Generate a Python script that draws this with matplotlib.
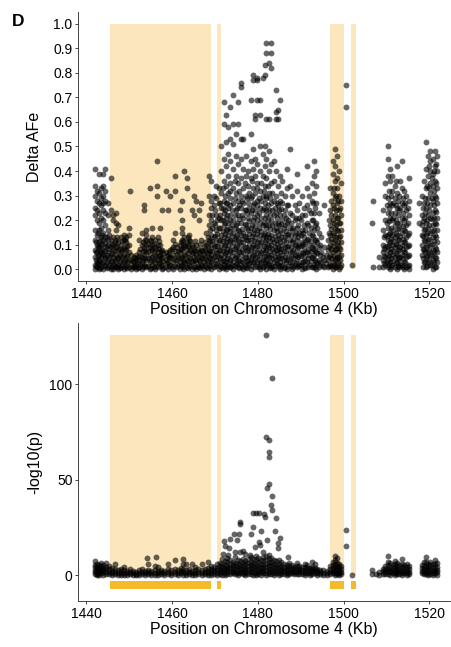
import matplotlib
matplotlib.use("Agg")
import matplotlib.pyplot as plt

plt.rcParams["font.family"] = ["Liberation Sans", "DejaVu Sans"]

# highlighted regions on chromosome 4 (Kb)
REGIONS = [(1445.5, 1469.2), (1470.4, 1471.3), (1496.7, 1500.1), (1501.6, 1502.9)]

X_TICKS = [1440, 1460, 1480, 1500, 1520]
AFE_TICKS = [0.0, 0.1, 0.2, 0.3, 0.4, 0.5, 0.6, 0.7, 0.8, 0.9, 1.0]
P_TICKS = [0, 50, 100]

# Delta AFe per SNP, grouped by position (Kb)
AFE_COLS = [
    (1442.0, [0.41, 0.34, 0.30, 0.25, 0.22, 0.16, 0.12, 0.08, 0.05, 0.02, 0.00]),
    (1442.5, [0.32, 0.28, 0.24, 0.20, 0.14, 0.10, 0.07, 0.03, 0.01]),
    (1443.0, [0.39, 0.31, 0.27, 0.23, 0.19, 0.16, 0.11, 0.09, 0.06, 0.04, 0.02, 0.00]),
    (1443.5, [0.33, 0.29, 0.26, 0.21, 0.17, 0.13, 0.10, 0.07, 0.05, 0.01]),
    (1444.0, [0.39, 0.34, 0.30, 0.27, 0.24, 0.20, 0.15, 0.12, 0.08, 0.06, 0.03, 0.00]),
    (1444.5, [0.41, 0.32, 0.28, 0.23, 0.18, 0.13, 0.09, 0.05, 0.02]),
    (1445.0, [0.27, 0.22, 0.16, 0.12, 0.10, 0.07, 0.04, 0.01]),
    (1445.7, [0.37, 0.24, 0.12, 0.09, 0.06, 0.03, 0.00]),
    (1446.3, [0.22, 0.20, 0.13, 0.10, 0.08, 0.05, 0.02, 0.00]),
    (1446.9, [0.23, 0.19, 0.16, 0.12, 0.09, 0.06, 0.03, 0.01]),
    (1447.5, [0.18, 0.11, 0.08, 0.05, 0.02, 0.00]),
    (1448.1, [0.13, 0.10, 0.07, 0.04, 0.01]),
    (1448.7, [0.14, 0.12, 0.09, 0.06, 0.03, 0.00]),
    (1449.3, [0.13, 0.11, 0.08, 0.05, 0.02]),
    (1449.9, [0.17, 0.14, 0.10, 0.07, 0.04, 0.01]),
    (1450.2, [0.32]),
    (1450.5, [0.06, 0.04, 0.02, 0.00]),
    (1451.1, [0.05, 0.03, 0.01]),
    (1451.7, [0.06, 0.04, 0.02, 0.00]),
    (1452.3, [0.12, 0.07, 0.04, 0.01]),
    (1452.9, [0.15, 0.10, 0.05, 0.03, 0.00]),
    (1453.5, [0.26, 0.24, 0.09, 0.06, 0.02]),
    (1454.0, [0.16, 0.14, 0.12, 0.10, 0.07, 0.04, 0.01]),
    (1454.8, [0.33, 0.12, 0.09, 0.06, 0.03, 0.00]),
    (1455.4, [0.17, 0.13, 0.10, 0.08, 0.05, 0.02]),
    (1456.0, [0.12, 0.09, 0.06, 0.03, 0.00]),
    (1456.4, [0.44, 0.34, 0.30]),
    (1456.7, [0.13, 0.10, 0.07, 0.04, 0.01]),
    (1457.1, [0.17, 0.10, 0.06, 0.03]),
    (1457.7, [0.24, 0.08, 0.05, 0.02, 0.00]),
    (1458.5, [0.32, 0.07, 0.04, 0.01]),
    (1459.1, [0.24, 0.06, 0.03, 0.00]),
    (1459.6, [0.30, 0.08, 0.05, 0.02]),
    (1460.3, [0.12, 0.09, 0.06, 0.03, 0.00]),
    (1460.7, [0.38, 0.32, 0.15]),
    (1461.2, [0.09, 0.06, 0.04, 0.01]),
    (1461.8, [0.24, 0.10, 0.07, 0.03, 0.00]),
    (1462.3, [0.28, 0.20, 0.17, 0.15, 0.12, 0.08, 0.05, 0.02]),
    (1462.8, [0.40, 0.13, 0.10, 0.06, 0.03, 0.00]),
    (1463.4, [0.37, 0.33, 0.11, 0.08, 0.04, 0.01]),
    (1464.0, [0.14, 0.12, 0.09, 0.05, 0.02]),
    (1464.6, [0.24, 0.10, 0.07, 0.03, 0.00]),
    (1465.1, [0.30, 0.22, 0.08, 0.05, 0.01]),
    (1465.7, [0.28, 0.10, 0.06, 0.03, 0.00]),
    (1466.2, [0.24, 0.20, 0.07, 0.04, 0.01]),
    (1466.8, [0.27, 0.12, 0.08, 0.05, 0.02]),
    (1467.4, [0.09, 0.06, 0.03, 0.00]),
    (1468.0, [0.15, 0.10, 0.07, 0.04, 0.01]),
    (1468.6, [0.38, 0.30, 0.22, 0.18, 0.12, 0.08, 0.05, 0.02]),
    (1469.1, [0.36, 0.28, 0.25, 0.20, 0.14, 0.10, 0.06, 0.03, 0.00]),
    (1469.7, [0.30, 0.26, 0.19, 0.13, 0.09, 0.05, 0.01]),
    (1470.3, [0.34, 0.29, 0.22, 0.16, 0.11, 0.07, 0.04, 0.02]),
    (1470.9, [0.33, 0.27, 0.21, 0.17, 0.12, 0.08, 0.05, 0.00]),
    (1471.5, [0.50, 0.40, 0.31, 0.25, 0.20, 0.14, 0.10, 0.06, 0.03, 0.01]),
    (1472.1, [0.68, 0.59, 0.45, 0.36, 0.28, 0.23, 0.18, 0.13, 0.09, 0.05, 0.02]),
    (1472.6, [0.63, 0.52, 0.42, 0.34, 0.27, 0.21, 0.16, 0.11, 0.07, 0.03, 0.00]),
    (1473.1, [0.58, 0.47, 0.38, 0.31, 0.25, 0.19, 0.14, 0.10, 0.06, 0.02]),
    (1473.6, [0.66, 0.53, 0.44, 0.35, 0.29, 0.22, 0.17, 0.12, 0.08, 0.04, 0.01]),
    (1474.3, [0.71, 0.59, 0.51, 0.41, 0.33, 0.27, 0.20, 0.15, 0.11, 0.07, 0.03, 0.00]),
    (1474.9, [0.55, 0.46, 0.38, 0.31, 0.24, 0.18, 0.13, 0.09, 0.05, 0.02]),
    (1475.4, [0.68, 0.59, 0.43, 0.35, 0.28, 0.22, 0.16, 0.12, 0.08, 0.04, 0.01]),
    (1476.0, [0.76, 0.74, 0.53, 0.45, 0.37, 0.30, 0.25, 0.19, 0.14, 0.10, 0.06, 0.02]),
    (1476.6, [0.53, 0.41, 0.33, 0.27, 0.21, 0.15, 0.11, 0.07, 0.03, 0.00]),
    (1477.2, [0.46, 0.38, 0.30, 0.24, 0.18, 0.13, 0.09, 0.05, 0.01]),
    (1477.8, [0.40, 0.34, 0.27, 0.21, 0.16, 0.12, 0.08, 0.04, 0.02]),
    (1478.3, [0.69, 0.55, 0.44, 0.37, 0.29, 0.23, 0.17, 0.12, 0.08, 0.04, 0.00]),
    (1478.8, [0.79, 0.77, 0.49, 0.41, 0.33, 0.26, 0.20, 0.15, 0.10, 0.06, 0.03]),
    (1479.4, [0.63, 0.61, 0.45, 0.38, 0.31, 0.24, 0.18, 0.13, 0.09, 0.05, 0.01]),
    (1479.9, [0.78, 0.69, 0.77, 0.43, 0.35, 0.28, 0.22, 0.16, 0.11, 0.07, 0.03]),
    (1480.5, [0.69, 0.63, 0.50, 0.40, 0.32, 0.25, 0.19, 0.14, 0.10, 0.06, 0.02, 0.00]),
    (1481.1, [0.78, 0.47, 0.38, 0.30, 0.24, 0.18, 0.13, 0.08, 0.04, 0.01]),
    (1481.6, [0.83, 0.79, 0.50, 0.42, 0.34, 0.27, 0.21, 0.15, 0.11, 0.07, 0.03]),
    (1482.0, [0.92, 0.88, 0.61, 0.45, 0.37, 0.29, 0.22, 0.17, 0.12, 0.08, 0.04, 0.00]),
    (1482.6, [0.84, 0.61, 0.48, 0.40, 0.31, 0.24, 0.18, 0.13, 0.09, 0.05, 0.02]),
    (1483.1, [0.92, 0.82, 0.88, 0.43, 0.35, 0.27, 0.20, 0.14, 0.10, 0.06, 0.01]),
    (1483.7, [0.44, 0.36, 0.28, 0.22, 0.16, 0.11, 0.07, 0.03, 0.00]),
    (1484.2, [0.73, 0.64, 0.61, 0.40, 0.30, 0.23, 0.17, 0.12, 0.08, 0.04]),
    (1484.7, [0.65, 0.61, 0.34, 0.26, 0.19, 0.14, 0.09, 0.05, 0.02]),
    (1485.1, [0.69, 0.38, 0.28, 0.22, 0.16, 0.11, 0.07, 0.03, 0.00]),
    (1485.7, [0.36, 0.27, 0.20, 0.15, 0.10, 0.06, 0.02]),
    (1486.3, [0.30, 0.24, 0.18, 0.13, 0.09, 0.05, 0.01]),
    (1486.9, [0.41, 0.33, 0.26, 0.19, 0.14, 0.09, 0.04, 0.00]),
    (1487.4, [0.49, 0.34, 0.23, 0.17, 0.12, 0.07, 0.03]),
    (1488.0, [0.30, 0.22, 0.16, 0.11, 0.07, 0.03, 0.00]),
    (1488.6, [0.26, 0.20, 0.14, 0.10, 0.06, 0.02]),
    (1489.1, [0.39, 0.32, 0.24, 0.17, 0.12, 0.08, 0.04, 0.01]),
    (1489.7, [0.27, 0.21, 0.15, 0.10, 0.06, 0.02]),
    (1490.2, [0.30, 0.22, 0.16, 0.11, 0.07, 0.03, 0.00]),
    (1490.8, [0.25, 0.18, 0.13, 0.09, 0.05, 0.01]),
    (1491.4, [0.42, 0.33, 0.26, 0.19, 0.12, 0.07, 0.03]),
    (1492.0, [0.30, 0.24, 0.15, 0.10, 0.06, 0.02]),
    (1492.6, [0.35, 0.28, 0.20, 0.14, 0.09, 0.05, 0.01]),
    (1493.1, [0.44, 0.38, 0.31, 0.23, 0.16, 0.10, 0.06, 0.02]),
    (1493.6, [0.40, 0.34, 0.27, 0.19, 0.12, 0.07, 0.03, 0.00]),
    (1494.2, [0.23, 0.15, 0.09, 0.04, 0.01]),
    (1494.8, [0.13, 0.07, 0.03]),
    (1495.5, [0.26, 0.09, 0.04, 0.01]),
    (1496.3, [0.12, 0.08, 0.04, 0.01]),
    (1496.9, [0.33, 0.24, 0.18, 0.14, 0.10, 0.06, 0.02]),
    (1497.4, [0.44, 0.39, 0.31, 0.26, 0.20, 0.15, 0.11, 0.07, 0.03, 0.00]),
    (1497.9, [0.49, 0.42, 0.36, 0.29, 0.22, 0.17, 0.12, 0.08, 0.04, 0.01]),
    (1498.4, [0.46, 0.37, 0.33, 0.27, 0.21, 0.16, 0.10, 0.05, 0.02]),
    (1498.9, [0.40, 0.30, 0.24, 0.19, 0.13, 0.09, 0.05, 0.00]),
    (1499.4, [0.35, 0.28, 0.22, 0.16, 0.11, 0.06, 0.02]),
    (1500.5, [0.75, 0.66]),
    (1501.9, [0.02]),
    (1506.6, [0.19]),
    (1506.8, [0.28, 0.01]),
    (1508.3, [0.05, 0.01]),
    (1509.1, [0.24, 0.16, 0.10, 0.07, 0.04, 0.01]),
    (1509.7, [0.35, 0.30, 0.20, 0.14, 0.09, 0.05, 0.02]),
    (1510.3, [0.50, 0.45, 0.38, 0.29, 0.23, 0.17, 0.12, 0.08, 0.04, 0.01]),
    (1510.8, [0.41, 0.36, 0.27, 0.21, 0.15, 0.11, 0.07, 0.03, 0.00]),
    (1511.3, [0.38, 0.32, 0.26, 0.20, 0.14, 0.10, 0.06, 0.02]),
    (1511.9, [0.34, 0.29, 0.23, 0.18, 0.13, 0.09, 0.05, 0.01]),
    (1512.4, [0.42, 0.31, 0.25, 0.19, 0.14, 0.10, 0.06, 0.03, 0.00]),
    (1513.0, [0.30, 0.24, 0.17, 0.12, 0.08, 0.04, 0.01]),
    (1513.5, [0.44, 0.33, 0.27, 0.21, 0.15, 0.10, 0.06, 0.02]),
    (1514.1, [0.32, 0.26, 0.20, 0.16, 0.11, 0.07, 0.03, 0.00]),
    (1514.6, [0.30, 0.24, 0.18, 0.13, 0.09, 0.05, 0.01]),
    (1515.2, [0.37, 0.28, 0.22, 0.15, 0.10, 0.06, 0.02, 0.00]),
    (1517.5, [0.27, 0.19]),
    (1518.2, [0.30, 0.22, 0.18, 0.14, 0.10, 0.06]),
    (1518.7, [0.36, 0.27, 0.21, 0.16, 0.12, 0.08, 0.03]),
    (1519.2, [0.52, 0.41, 0.33, 0.25, 0.19, 0.14, 0.09, 0.05, 0.01]),
    (1519.7, [0.46, 0.38, 0.29, 0.22, 0.17, 0.12, 0.07, 0.03]),
    (1520.2, [0.48, 0.44, 0.40, 0.35, 0.31, 0.26, 0.21, 0.15, 0.10, 0.06, 0.02]),
    (1520.7, [0.45, 0.39, 0.34, 0.28, 0.23, 0.18, 0.13, 0.08, 0.04, 0.00]),
    (1521.3, [0.48, 0.42, 0.36, 0.30, 0.24, 0.19, 0.14, 0.09, 0.05, 0.01]),
    (1521.8, [0.46, 0.40, 0.33, 0.27, 0.21, 0.16, 0.11, 0.07, 0.03]),
]

# more Delta AFe SNPs lying in between the columns above
AFE_FILL = [
    (1442.3, [0.11, 0.07, 0.04, 0.015]),
    (1442.8, [0.15, 0.09, 0.055, 0.025]),
    (1443.3, [0.12, 0.08, 0.035, 0.005]),
    (1443.8, [0.14, 0.105, 0.065, 0.025]),
    (1444.3, [0.11, 0.075, 0.045, 0.015]),
    (1444.8, [0.13, 0.095, 0.06, 0.03, 0.005]),
    (1445.4, [0.14, 0.085, 0.05, 0.02]),
    (1446.0, [0.105, 0.065, 0.035, 0.01]),
    (1446.6, [0.11, 0.075, 0.04, 0.015]),
    (1447.2, [0.13, 0.095, 0.045, 0.01]),
    (1447.8, [0.085, 0.06, 0.03, 0.005]),
    (1448.4, [0.115, 0.08, 0.05, 0.02]),
    (1449.0, [0.12, 0.085, 0.04, 0.01]),
    (1449.6, [0.095, 0.06, 0.03, 0.005]),
    (1450.8, [0.035, 0.01]),
    (1451.4, [0.045, 0.015]),
    (1452.0, [0.05, 0.025, 0.005]),
    (1452.6, [0.085, 0.055, 0.02]),
    (1453.2, [0.11, 0.075, 0.04, 0.01]),
    (1453.8, [0.12, 0.08, 0.045, 0.015]),
    (1454.4, [0.105, 0.075, 0.045, 0.015]),
    (1455.1, [0.115, 0.085, 0.04, 0.005]),
    (1455.7, [0.105, 0.07, 0.04, 0.01]),
    (1456.2, [0.085, 0.05, 0.015]),
    (1456.9, [0.115, 0.085, 0.055, 0.025]),
    (1457.4, [0.075, 0.045, 0.015]),
    (1458.0, [0.065, 0.035, 0.005]),
    (1458.8, [0.055, 0.025]),
    (1459.4, [0.07, 0.045, 0.015]),
    (1460.0, [0.085, 0.045, 0.01]),
    (1460.6, [0.105, 0.075, 0.04, 0.015]),
    (1461.5, [0.075, 0.05, 0.02]),
    (1462.0, [0.11, 0.085, 0.045, 0.015]),
    (1462.6, [0.115, 0.09, 0.04, 0.01]),
    (1463.1, [0.095, 0.06, 0.025]),
    (1463.7, [0.13, 0.10, 0.065, 0.035, 0.005]),
    (1464.3, [0.115, 0.08, 0.045, 0.015]),
    (1464.9, [0.09, 0.065, 0.035]),
    (1465.4, [0.115, 0.075, 0.04, 0.01]),
    (1466.0, [0.085, 0.05, 0.015]),
    (1466.5, [0.105, 0.065, 0.035, 0.005]),
    (1467.1, [0.075, 0.045, 0.015]),
    (1467.7, [0.11, 0.08, 0.05, 0.02]),
    (1468.3, [0.13, 0.095, 0.065, 0.035, 0.005]),
    (1468.9, [0.16, 0.115, 0.075, 0.045, 0.015]),
    (1469.4, [0.22, 0.17, 0.115, 0.075, 0.035]),
    (1470.0, [0.24, 0.18, 0.135, 0.095, 0.055, 0.015]),
    (1470.6, [0.20, 0.145, 0.095, 0.065, 0.025]),
    (1471.2, [0.27, 0.22, 0.17, 0.12, 0.08, 0.045, 0.015]),
    (1471.8, [0.33, 0.25, 0.20, 0.155, 0.115, 0.075, 0.035, 0.005]),
    (1472.4, [0.30, 0.24, 0.19, 0.145, 0.10, 0.065, 0.035, 0.01]),
    (1472.9, [0.27, 0.22, 0.165, 0.125, 0.085, 0.045, 0.015]),
    (1473.4, [0.32, 0.26, 0.20, 0.155, 0.115, 0.075, 0.04, 0.01]),
    (1474.0, [0.24, 0.18, 0.135, 0.095, 0.055, 0.02]),
    (1474.6, [0.36, 0.29, 0.22, 0.17, 0.125, 0.085, 0.045, 0.015]),
    (1475.2, [0.25, 0.19, 0.14, 0.10, 0.06, 0.025]),
    (1475.7, [0.32, 0.26, 0.205, 0.155, 0.11, 0.07, 0.035, 0.005]),
    (1476.3, [0.28, 0.22, 0.165, 0.125, 0.08, 0.04, 0.01]),
    (1476.9, [0.35, 0.24, 0.185, 0.135, 0.09, 0.05, 0.02]),
    (1477.5, [0.29, 0.23, 0.17, 0.12, 0.075, 0.035, 0.005]),
    (1478.0, [0.31, 0.25, 0.195, 0.145, 0.10, 0.06, 0.025]),
    (1478.6, [0.36, 0.30, 0.24, 0.18, 0.135, 0.09, 0.05, 0.015]),
    (1479.1, [0.27, 0.215, 0.16, 0.115, 0.07, 0.03]),
    (1479.7, [0.33, 0.26, 0.20, 0.145, 0.095, 0.05, 0.015]),
    (1480.2, [0.29, 0.23, 0.17, 0.12, 0.08, 0.04, 0.01]),
    (1480.8, [0.35, 0.28, 0.21, 0.155, 0.11, 0.065, 0.03]),
    (1481.4, [0.32, 0.25, 0.19, 0.14, 0.095, 0.05, 0.015]),
    (1481.8, [0.30, 0.24, 0.18, 0.13, 0.09, 0.055, 0.02]),
    (1482.3, [0.34, 0.26, 0.20, 0.145, 0.10, 0.06, 0.025]),
    (1482.9, [0.29, 0.22, 0.165, 0.115, 0.075, 0.035, 0.005]),
    (1483.4, [0.31, 0.24, 0.18, 0.125, 0.085, 0.045, 0.015]),
    (1483.9, [0.25, 0.19, 0.135, 0.09, 0.05, 0.015]),
    (1484.5, [0.27, 0.21, 0.155, 0.105, 0.065, 0.025]),
    (1484.9, [0.24, 0.18, 0.125, 0.085, 0.045, 0.01]),
    (1485.4, [0.31, 0.245, 0.185, 0.13, 0.085, 0.045, 0.015]),
    (1486.0, [0.22, 0.17, 0.12, 0.075, 0.04, 0.005]),
    (1486.6, [0.21, 0.155, 0.11, 0.07, 0.03]),
    (1487.1, [0.26, 0.20, 0.145, 0.095, 0.05, 0.015]),
    (1487.7, [0.19, 0.14, 0.09, 0.05, 0.015]),
    (1488.3, [0.17, 0.12, 0.08, 0.045, 0.01]),
    (1488.9, [0.21, 0.15, 0.10, 0.06, 0.025]),
    (1489.4, [0.18, 0.13, 0.09, 0.05, 0.015]),
    (1490.0, [0.20, 0.14, 0.095, 0.055, 0.02]),
    (1490.5, [0.15, 0.105, 0.065, 0.03]),
    (1491.1, [0.22, 0.16, 0.11, 0.07, 0.035, 0.005]),
    (1491.7, [0.18, 0.125, 0.08, 0.045, 0.01]),
    (1492.3, [0.23, 0.17, 0.115, 0.075, 0.035]),
    (1492.9, [0.27, 0.20, 0.135, 0.085, 0.045, 0.01]),
    (1493.4, [0.25, 0.18, 0.12, 0.08, 0.04, 0.01]),
    (1493.9, [0.17, 0.11, 0.065, 0.025]),
    (1494.5, [0.10, 0.06, 0.02]),
    (1495.1, [0.05, 0.015]),
    (1495.9, [0.06, 0.025]),
    (1496.6, [0.20, 0.15, 0.09, 0.05, 0.015]),
    (1497.1, [0.28, 0.22, 0.165, 0.125, 0.085, 0.045, 0.015]),
    (1497.7, [0.33, 0.25, 0.19, 0.14, 0.095, 0.055, 0.02]),
    (1498.2, [0.30, 0.24, 0.18, 0.13, 0.085, 0.045, 0.01]),
    (1498.7, [0.28, 0.21, 0.155, 0.11, 0.07, 0.03]),
    (1499.2, [0.25, 0.19, 0.135, 0.085, 0.04, 0.01]),
    (1509.4, [0.13, 0.085, 0.055, 0.025]),
    (1510.0, [0.26, 0.19, 0.135, 0.095, 0.06, 0.03]),
    (1510.5, [0.32, 0.25, 0.195, 0.145, 0.10, 0.055, 0.02]),
    (1511.1, [0.30, 0.23, 0.17, 0.125, 0.085, 0.045, 0.01]),
    (1511.6, [0.27, 0.21, 0.16, 0.115, 0.075, 0.035]),
    (1512.1, [0.36, 0.26, 0.20, 0.15, 0.105, 0.065, 0.025]),
    (1512.7, [0.28, 0.22, 0.165, 0.12, 0.08, 0.045, 0.015]),
    (1513.2, [0.36, 0.25, 0.19, 0.135, 0.09, 0.05, 0.02]),
    (1513.8, [0.29, 0.23, 0.175, 0.125, 0.085, 0.045, 0.01]),
    (1514.4, [0.27, 0.21, 0.155, 0.11, 0.07, 0.03]),
    (1514.9, [0.25, 0.19, 0.14, 0.095, 0.055, 0.015]),
    (1518.5, [0.25, 0.195, 0.135, 0.085, 0.045, 0.01]),
    (1519.0, [0.29, 0.23, 0.165, 0.115, 0.07, 0.03]),
    (1519.5, [0.34, 0.27, 0.20, 0.15, 0.10, 0.055, 0.015]),
    (1520.0, [0.42, 0.33, 0.24, 0.18, 0.125, 0.08, 0.04]),
    (1520.5, [0.37, 0.29, 0.205, 0.155, 0.105, 0.06, 0.02]),
    (1521.0, [0.40, 0.32, 0.26, 0.21, 0.16, 0.115, 0.07, 0.03]),
    (1521.6, [0.43, 0.35, 0.29, 0.235, 0.185, 0.13, 0.085, 0.045, 0.01]),
]

# -log10(p) per SNP, grouped by position (Kb)
P_COLS = [
    (1442.0, [7.3, 5.5, 4.2, 3.0, 1.8, 0.6]),
    (1442.5, [6.0, 4.6, 3.3, 2.1, 0.9, 0.1]),
    (1443.0, [5.2, 3.8, 2.6, 1.4, 0.3]),
    (1443.5, [6.4, 4.9, 3.5, 2.2, 1.0]),
    (1444.0, [5.5, 4.0, 2.8, 1.6, 0.4]),
    (1444.7, [6.5, 4.4, 3.1, 1.9, 0.7]),
    (1445.3, [4.8, 3.4, 2.0, 0.8]),
    (1446.0, [3.8, 2.5, 1.2, 0.2]),
    (1446.8, [6.0, 3.2, 2.0, 0.8]),
    (1447.5, [2.7, 1.5, 0.4]),
    (1448.2, [3.5, 2.2, 1.0, 0.1]),
    (1448.9, [4.2, 2.6, 1.3, 0.3]),
    (1449.6, [2.3, 1.1, 0.2]),
    (1450.2, [3.5, 1.6, 0.5]),
    (1451.0, [2.4, 1.2, 0.2]),
    (1451.7, [1.9, 0.8, 0.0]),
    (1452.4, [2.6, 1.4, 0.3]),
    (1453.1, [3.4, 2.0, 0.9]),
    (1453.8, [2.5, 1.3, 0.2]),
    (1454.1, [9.1]),
    (1454.5, [6.0, 3.0, 1.7, 0.6]),
    (1455.2, [2.2, 1.0, 0.1]),
    (1456.0, [5.0, 2.8, 1.5, 0.4]),
    (1456.3, [9.4]),
    (1456.8, [4.2, 2.2, 1.0, 0.2]),
    (1457.5, [3.0, 1.7, 0.5]),
    (1458.2, [2.4, 1.2, 0.1]),
    (1459.1, [6.0, 3.3, 1.8, 0.7]),
    (1459.8, [2.6, 1.3, 0.3]),
    (1460.7, [7.8, 3.5, 2.0, 0.8]),
    (1461.4, [2.8, 1.5, 0.2]),
    (1462.1, [4.0, 2.3, 1.0]),
    (1462.6, [8.5, 6.0, 3.1, 1.6, 0.4]),
    (1463.3, [6.0, 2.6, 1.3, 0.1]),
    (1464.0, [3.6, 2.0, 0.8]),
    (1464.7, [6.0, 2.5, 1.1, 0.2]),
    (1465.4, [4.5, 2.8, 1.5, 0.4]),
    (1466.1, [3.2, 1.8, 0.6]),
    (1466.9, [6.0, 2.7, 1.4, 0.3]),
    (1467.6, [3.4, 2.0, 0.8]),
    (1468.4, [6.8, 3.8, 2.4, 1.1, 0.1]),
    (1469.1, [5.0, 3.6, 2.3, 1.0, 0.2]),
    (1469.8, [4.4, 2.9, 1.6, 0.5]),
    (1470.5, [5.8, 4.1, 2.7, 1.4, 0.3]),
    (1471.1, [6.6, 4.8, 3.4, 2.0, 0.8]),
    (1471.7, [8.5, 6.0, 4.5, 3.0, 1.6, 0.4]),
    (1472.3, [7.5, 5.6, 4.0, 2.6, 1.2, 0.1]),
    (1472.9, [9.0, 6.8, 5.0, 3.5, 2.1, 0.7]),
    (1473.5, [8.0, 6.2, 4.6, 3.1, 1.7, 0.5]),
    (1474.1, [7.2, 5.5, 3.9, 2.4, 1.0]),
    (1474.7, [9.5, 6.7, 5.0, 3.4, 2.0, 0.6]),
    (1475.3, [8.2, 6.1, 4.4, 2.9, 1.5, 0.2]),
    (1475.9, [7.6, 5.6, 4.0, 2.5, 1.1]),
    (1476.5, [13.0, 8.8, 6.4, 4.7, 3.2, 1.8, 0.5]),
    (1477.1, [11.0, 7.5, 5.8, 4.1, 2.6, 1.2, 0.1]),
    (1477.7, [8.4, 6.6, 4.8, 3.3, 1.9, 0.6]),
    (1478.3, [9.8, 7.2, 5.3, 3.7, 2.2, 0.9]),
    (1478.9, [8.6, 6.5, 4.7, 3.1, 1.7, 0.4]),
    (1479.5, [10.2, 7.8, 5.8, 4.2, 2.7, 1.3, 0.2]),
    (1480.1, [9.0, 6.9, 5.1, 3.5, 2.0, 0.7]),
    (1480.7, [8.3, 6.2, 4.5, 3.0, 1.6, 0.3]),
    (1481.3, [9.6, 7.4, 5.5, 3.9, 2.4, 1.0]),
    (1481.9, [10.0, 7.9, 6.0, 4.3, 2.8, 1.4, 0.1]),
    (1482.5, [8.8, 6.7, 4.9, 3.3, 1.9, 0.6]),
    (1483.1, [9.2, 7.0, 5.2, 3.6, 2.2, 0.8]),
    (1483.7, [8.0, 6.0, 4.3, 2.8, 1.4, 0.2]),
    (1484.3, [7.4, 5.5, 3.9, 2.5, 1.1]),
    (1484.9, [8.2, 6.1, 4.4, 2.9, 1.5, 0.3]),
    (1485.5, [6.8, 5.0, 3.5, 2.1, 0.8]),
    (1486.1, [6.0, 4.4, 3.0, 1.7, 0.5]),
    (1486.7, [5.6, 4.0, 2.6, 1.3, 0.1]),
    (1487.3, [6.4, 4.7, 3.2, 1.8, 0.6]),
    (1487.9, [5.2, 3.7, 2.3, 1.0]),
    (1488.5, [4.6, 3.2, 1.9, 0.7]),
    (1489.1, [6.5, 4.8, 3.3, 2.0, 0.8]),
    (1489.7, [5.0, 3.5, 2.2, 0.9]),
    (1490.3, [4.4, 3.0, 1.7, 0.5]),
    (1490.9, [6.2, 4.2, 2.8, 1.5, 0.3]),
    (1491.5, [5.4, 3.8, 2.4, 1.1]),
    (1492.1, [4.0, 2.6, 1.3, 0.2]),
    (1492.7, [6.8, 4.6, 3.1, 1.8, 0.6]),
    (1493.3, [5.8, 4.0, 2.6, 1.2]),
    (1493.9, [3.6, 2.3, 1.0, 0.1]),
    (1494.5, [3.0, 1.8, 0.6]),
    (1495.3, [2.6, 1.4, 0.3]),
    (1496.1, [2.2, 1.0, 0.1]),
    (1496.8, [5.0, 3.4, 2.0, 0.7]),
    (1497.4, [7.0, 5.3, 3.8, 2.4, 1.0]),
    (1497.9, [10.3, 8.0, 6.0, 4.3, 2.8, 1.4, 0.2]),
    (1498.4, [9.0, 6.5, 4.7, 3.1, 1.7, 0.5]),
    (1498.9, [6.0, 4.4, 2.9, 1.5, 0.3]),
    (1499.4, [4.8, 3.3, 1.9, 0.6]),
    (1500.5, [23.9, 15.5]),
    (1501.9, [0.4]),
    (1506.7, [3.0, 0.5]),
    (1507.6, [0.8]),
    (1508.3, [2.0, 0.3]),
    (1509.1, [3.6, 2.2, 0.9]),
    (1509.7, [5.0, 3.4, 2.0, 0.6]),
    (1510.3, [10.3, 7.0, 5.2, 3.6, 2.1, 0.8]),
    (1510.8, [6.4, 4.6, 3.0, 1.6, 0.3]),
    (1511.4, [5.5, 3.9, 2.5, 1.1]),
    (1511.9, [7.6, 5.8, 4.2, 2.7, 1.3, 0.1]),
    (1512.5, [6.6, 4.8, 3.2, 1.8, 0.5]),
    (1513.0, [5.2, 3.6, 2.2, 0.9]),
    (1513.6, [8.6, 6.0, 4.3, 2.8, 1.4, 0.2]),
    (1514.1, [5.6, 4.0, 2.5, 1.1]),
    (1514.7, [6.2, 4.5, 2.9, 1.5, 0.3]),
    (1515.2, [5.0, 3.4, 2.0, 0.6]),
    (1518.2, [5.6, 3.9, 2.5, 1.1]),
    (1518.7, [6.8, 4.8, 3.2, 1.8, 0.5]),
    (1519.2, [9.5, 7.0, 5.0, 3.5, 2.0, 0.7]),
    (1519.7, [6.2, 4.4, 2.9, 1.5, 0.2]),
    (1520.2, [7.0, 5.2, 3.6, 2.1, 0.8]),
    (1520.7, [6.0, 4.2, 2.7, 1.3, 0.1]),
    (1521.3, [8.0, 5.8, 4.0, 2.5, 1.1]),
    (1521.8, [6.6, 4.6, 3.0, 1.6, 0.4]),
]

# strongly associated SNPs around the peak
PEAK_X = [1482.0, 1483.3, 1481.8, 1482.6, 1482.5, 1482.6, 1482.5, 1482.1, 1483.2, 1483.1,
          1483.3, 1484.3, 1478.8, 1479.6, 1480.3, 1481.4, 1481.6, 1475.8, 1475.8, 1478.9,
          1480.7, 1484.0, 1474.5, 1475.6, 1478.5, 1473.5, 1472.1, 1475.2, 1480.2, 1482.1,
          1485.1, 1484.7, 1484.7, 1472.3, 1473.3, 1474.6, 1475.8, 1478.1, 1479.3, 1480.4,
          1481.1, 1482.7, 1487.0, 1473.0, 1471.8]
PEAK_P = [125.8, 103.5, 72.3, 70.9, 64.8, 62.2, 47.7, 45.6, 41.6, 36.6,
          34.0, 30.0, 32.6, 32.6, 32.6, 32.0, 30.4, 28.2, 26.8, 25.3,
          23.0, 23.4, 21.8, 21.8, 21.6, 19.0, 17.8, 18.3, 17.3, 18.6,
          19.5, 16.9, 14.3, 15.2, 14.3, 12.5, 12.0, 10.8, 15.0, 16.0,
          12.2, 10.5, 9.6, 10.5, 11.0]

SHADE = "#fbe6bd"
BAR = "#f5b92c"
DOT_KW = dict(s=18, c="black", alpha=0.6, linewidths=0, zorder=3)


def flatten(cols):
    xs, ys = [], []
    for x, vals in cols:
        for v in vals:
            xs.append(x)
            ys.append(v)
    return xs, ys


def style_axis(ax):
    for side in ("top", "right"):
        ax.spines[side].set_visible(False)
    for side in ("left", "bottom"):
        ax.spines[side].set_color("#444444")
        ax.spines[side].set_linewidth(0.7)
    ax.tick_params(length=2.5, width=0.7, color="#444444", labelsize=10, labelcolor="black", pad=1.5)
    ax.set_xlim(1438.1, 1524.8)
    ax.set_xticks(X_TICKS)
    ax.set_xlabel("Position on Chromosome 4 (Kb)", fontsize=11.5, labelpad=1)


def make_figure():
    fig = plt.figure(figsize=(4.51, 6.47), dpi=100)
    ax1 = fig.add_axes([0.173, 0.5657, 0.825, 0.4158])
    ax2 = fig.add_axes([0.173, 0.0711, 0.825, 0.4302])

    # top panel: delta allele frequency
    for x0, x1 in REGIONS:
        ax1.fill_between([x0, x1], 0, 1.0, color=SHADE, linewidth=0, zorder=1)
    xs, ys = flatten(AFE_COLS + AFE_FILL)
    ax1.scatter(xs, ys, **DOT_KW)
    style_axis(ax1)
    ax1.set_ylim(-0.047, 1.047)
    ax1.set_yticks(AFE_TICKS)
    ax1.set_yticklabels([f"{t:.1f}" for t in AFE_TICKS])
    ax1.set_ylabel("Delta AFe", fontsize=11.5)
    ax1.yaxis.set_label_coords(-0.097, 0.5)

    # bottom panel: association p-values
    pxs, pys = flatten(P_COLS)
    top = max(PEAK_P)
    for x0, x1 in REGIONS:
        ax2.fill_between([x0, x1], 0, top, color=SHADE, linewidth=0, zorder=1)
        ax2.fill_between([x0, x1], -7.1, -3.1, color=BAR, linewidth=0, zorder=1)
    ax2.scatter(pxs + PEAK_X, pys + PEAK_P, **DOT_KW)
    style_axis(ax2)
    ax2.set_ylim(-13.4, 132.3)
    ax2.set_yticks(P_TICKS)
    ax2.set_ylabel("-log10(p)", fontsize=11.5)
    ax2.yaxis.set_label_coords(-0.097, 0.5)

    fig.text(0.027, 0.978, "D", fontsize=12.5, fontweight="bold", va="top", ha="left")

    fig.savefig("out.png", dpi=100)
    plt.close(fig)


if __name__ == "__main__":
    make_figure()
